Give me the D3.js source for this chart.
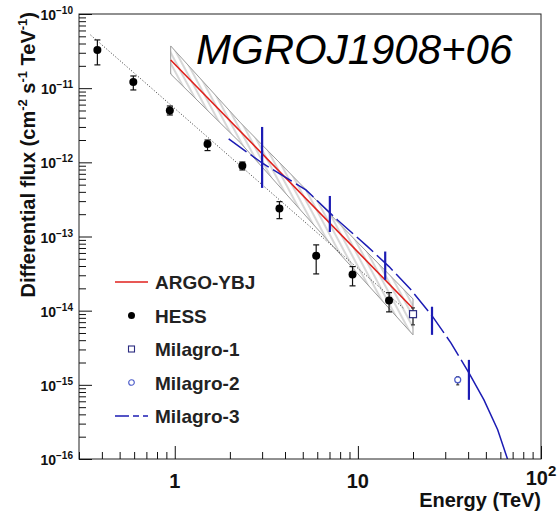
<!DOCTYPE html>
<html>
<head>
<meta charset="utf-8">
<script src="https://cdn.jsdelivr.net/npm/d3@7"></script>
<style>
  body { margin: 0; background: #fff; }
  svg { font-family: "Liberation Sans", Arial, sans-serif; }
</style>
</head>
<body>
<svg id="chart" width="557" height="511"></svg>
<script>
// HESS points (TeV, cm^-2 s^-1 TeV^-1)
const hessE = [0.378, 0.594, 0.94, 1.51, 2.34, 3.73, 5.92, 9.35, 14.8];
const hessFlux = [3.27e-11, 1.21e-11, 4.98e-12, 1.77e-12, 9.0e-13, 2.38e-13, 5.48e-14, 3.07e-14, 1.37e-14];
const hessHi = [4.47e-11, 1.46e-11, 5.75e-12, 2.0e-12, 1.01e-12, 2.95e-13, 7.71e-14, 3.93e-14, 1.75e-14];
const hessLo = [2.06e-11, 9.46e-12, 4.35e-12, 1.44e-12, 7.89e-13, 1.74e-13, 3.13e-14, 2.16e-14, 9.63e-15];

// HESS power-law fit, end points
const hessFitE = [0.347, 18];
const hessFitFlux = [5.21e-11, 1.05e-14];

// ARGO-YBJ fit and its error band
const argoE = [0.95, 20];
const argoFlux = [2.4e-11, 1.07e-14];
const bandE = [0.95, 2.29, 6.28, 20];
const bandUpper = [3.71e-11, 3.40e-12, 2.67e-13, 1.44e-14];
const bandLower = [1.55e-11, 1.82e-12, 1.12e-13, 4.72e-15];

// Milagro-1 / Milagro-2 points
const m1E = [20], m1Flux = [8.97e-15], m1Hi = [1.09e-14], m1Lo = [6.44e-15];
const m2E = [35.1], m2Flux = [1.17e-15], m2Hi = [1.29e-15], m2Lo = [1.0e-15];

// Milagro-3 cutoff spectrum and its error bars
const m3E = [1.97, 3.01, 5.2, 7.74, 11.3, 14.8, 19.5, 25.6, 32.2, 40.4, 48.8, 58.0, 65.8];
const m3Flux = [2.07e-12, 9.72e-13, 4.25e-13, 1.67e-13, 7.31e-14, 3.93e-14, 1.91e-14, 8.3e-15, 3.68e-15, 1.45e-15, 6.28e-16, 2.48e-16, 9.8e-17];
const m3BarE = [3.0, 7.03, 14.1, 25.4, 40.4];
const m3BarHi = [3.0e-12, 3.52e-13, 6.27e-14, 1.13e-14, 2.17e-15];
const m3BarLo = [4.52e-13, 1.15e-13, 2.6e-14, 4.72e-15, 6.28e-16];

const legendLabels = ["ARGO-YBJ", "HESS", "Milagro-1", "Milagro-2", "Milagro-3"];
const xTickLabels = [[1, "1", null], [10, "10", null], [100, "10", "2"]];
const yTickExps = [-16, -15, -14, -13, -12, -11, -10];

const red = "#e0201c", blue = "#1c1cb4", navy = "#2b2b80";

const svg = d3.select("#chart");
const x = d3.scaleLog().domain([0.3, 100]).range([79, 541]);
const y = d3.scaleLog().domain([1e-16, 1e-10]).range([459, 14]);
const zip = (a, b) => a.map((v, i) => [v, b[i]]);

// hatch pattern for the ARGO band
const defs = svg.append("defs");
defs.append("pattern")
  .attr("id", "hatch")
  .attr("patternUnits", "userSpaceOnUse")
  .attr("width", 5).attr("height", 5)
  .attr("patternTransform", "rotate(-28)")
  .append("line")
  .attr("x1", 1).attr("y1", 0).attr("x2", 1).attr("y2", 5)
  .attr("stroke", "#a6a6a6").attr("stroke-width", 0.9);
defs.append("clipPath").attr("id", "clip")
  .append("rect")
  .attr("x", x.range()[0]).attr("y", y.range()[1])
  .attr("width", x.range()[1] - x.range()[0])
  .attr("height", y.range()[0] - y.range()[1]);

const plot = svg.append("g").attr("clip-path", "url(#clip)");

// band
const bandPts = zip(bandE, bandUpper).concat(zip(bandE, bandLower).reverse());
plot.append("path")
  .attr("d", d3.line().x(d => x(d[0])).y(d => y(d[1]))(bandPts) + "Z")
  .attr("fill", "url(#hatch)")
  .attr("stroke", "#999").attr("stroke-width", 1);

const line = d3.line().x(d => x(d[0])).y(d => y(d[1]));

// HESS fit dotted
plot.append("path")
  .attr("d", line(zip(hessFitE, hessFitFlux)))
  .attr("fill", "none").attr("stroke", "#333").attr("stroke-width", 1)
  .attr("stroke-dasharray", "1,2");

// ARGO line
plot.append("path")
  .attr("d", line(zip(argoE, argoFlux)))
  .attr("fill", "none").attr("stroke", red).attr("stroke-width", 1.6);

// Milagro-3 curve: dashed, then solid at the high end
const m3 = zip(m3E, m3Flux);
plot.append("path")
  .attr("d", line(m3.filter(d => d[0] <= 40.5)))
  .attr("fill", "none").attr("stroke", blue).attr("stroke-width", 1.5)
  .attr("stroke-dasharray", "22,5");
plot.append("path")
  .attr("d", line(m3.filter(d => d[0] >= 40)))
  .attr("fill", "none").attr("stroke", blue).attr("stroke-width", 1.5);

// Milagro-3 bars
plot.selectAll("line.m3bar")
  .data(m3BarE.map((e, i) => ({ e, hi: m3BarHi[i], lo: m3BarLo[i] })))
  .join("line")
  .attr("class", "m3bar")
  .attr("x1", d => x(d.e)).attr("x2", d => x(d.e))
  .attr("y1", d => y(d.hi)).attr("y2", d => y(d.lo))
  .attr("stroke", blue).attr("stroke-width", 2.2);

// error bars helper
function errBars(E, hi, lo, color, cap) {
  const g = plot.append("g").attr("stroke", color).attr("stroke-width", 1.2);
  E.forEach((e, i) => {
    g.append("line").attr("x1", x(e)).attr("x2", x(e)).attr("y1", y(hi[i])).attr("y2", y(lo[i]));
    g.append("line").attr("x1", x(e) - cap).attr("x2", x(e) + cap).attr("y1", y(hi[i])).attr("y2", y(hi[i]));
    g.append("line").attr("x1", x(e) - cap).attr("x2", x(e) + cap).attr("y1", y(lo[i])).attr("y2", y(lo[i]));
  });
}

errBars(hessE, hessHi, hessLo, "#111", 3);
plot.selectAll("circle.hess")
  .data(zip(hessE, hessFlux))
  .join("circle")
  .attr("class", "hess")
  .attr("cx", d => x(d[0])).attr("cy", d => y(d[1])).attr("r", 4)
  .attr("fill", "#000");

errBars(m1E, m1Hi, m1Lo, "#333", 2);
plot.selectAll("rect.m1")
  .data(zip(m1E, m1Flux))
  .join("rect")
  .attr("class", "m1")
  .attr("x", d => x(d[0]) - 3.5).attr("y", d => y(d[1]) - 3.5)
  .attr("width", 7).attr("height", 7)
  .attr("fill", "#fff").attr("stroke", navy).attr("stroke-width", 1.2);

errBars(m2E, m2Hi, m2Lo, "#333", 1.5);
plot.selectAll("circle.m2")
  .data(zip(m2E, m2Flux))
  .join("circle")
  .attr("class", "m2")
  .attr("cx", d => x(d[0])).attr("cy", d => y(d[1])).attr("r", 3)
  .attr("fill", "#fff").attr("stroke", "#4a5ac8").attr("stroke-width", 1.2);

// frame
svg.append("rect")
  .attr("x", x.range()[0]).attr("y", y.range()[1])
  .attr("width", x.range()[1] - x.range()[0])
  .attr("height", y.range()[0] - y.range()[1])
  .attr("fill", "none").attr("stroke", "#222").attr("stroke-width", 1);

// axes: major + minor ticks pointing inward
const xMajor = [1, 10, 100];
const xMinor = x.ticks().filter(v => !xMajor.includes(v));
const yMajor = yTickExps.map(e => Math.pow(10, e));
const yMinor = y.ticks().filter(v => !yMajor.some(m => Math.abs(m - v) / v < 1e-6));

function styleAxis(g) {
  g.select(".domain").remove();
  g.selectAll("text").remove();
  g.selectAll("line").attr("stroke", "#111");
}
const xAxisG = svg.append("g").attr("transform", `translate(0,${y.range()[0]})`);
xAxisG.append("g").call(d3.axisBottom(x).tickValues(xMajor).tickSize(-13)).call(styleAxis);
xAxisG.append("g").call(d3.axisBottom(x).tickValues(xMinor).tickSize(-7)).call(styleAxis);
const yAxisG = svg.append("g").attr("transform", `translate(${x.range()[0]},0)`);
yAxisG.append("g").call(d3.axisLeft(y).tickValues(yMajor).tickSize(-13)).call(styleAxis);
yAxisG.append("g").call(d3.axisLeft(y).tickValues(yMinor).tickSize(-7)).call(styleAxis);

// x tick labels
const xl = svg.append("g").attr("font-weight", "bold").attr("font-size", 20).attr("fill", "#111");
xTickLabels.forEach(([v, base, sup]) => {
  const t = xl.append("text").attr("x", x(v)).attr("y", sup ? 485 : 488).attr("text-anchor", "middle");
  t.append("tspan").text(base);
  if (sup) t.append("tspan").attr("dy", -9).attr("font-size", 15).text(sup);
});

// y tick labels
const yl = svg.append("g").attr("font-weight", "bold").attr("fill", "#111");
yTickExps.forEach(e => {
  const t = yl.append("text").attr("x", 73).attr("y", y(Math.pow(10, e)) + 6).attr("text-anchor", "end");
  t.append("tspan").attr("font-size", 14).text("10");
  t.append("tspan").attr("font-size", 10).attr("dy", -6).text(String(e).replace("-", "\u2212"));
});

// axis titles
svg.append("text")
  .attr("x", 541).attr("y", 507).attr("text-anchor", "end")
  .attr("font-weight", "bold").attr("font-size", 20).attr("fill", "#111")
  .text("Energy (TeV)");

const yt = svg.append("text")
  .attr("transform", "translate(35,12) rotate(-90)")
  .attr("text-anchor", "end")
  .attr("font-weight", "bold").attr("font-size", 20).attr("fill", "#111");
yt.append("tspan").text("Differential flux (cm");
yt.append("tspan").attr("font-size", 13).attr("dy", -8).text("-2");
yt.append("tspan").attr("dy", 8).text(" s");
yt.append("tspan").attr("font-size", 13).attr("dy", -8).text("-1");
yt.append("tspan").attr("dy", 8).text(" TeV");
yt.append("tspan").attr("font-size", 13).attr("dy", -8).text("-1");
yt.append("tspan").attr("dy", 8).text(")");

// title
svg.append("text")
  .attr("x", 196).attr("y", 64)
  .attr("font-style", "italic").attr("font-size", 42).attr("fill", "#000")
  .text("MGROJ1908+06");

// legend
const leg = svg.append("g").attr("font-weight", "bold").attr("font-size", 19).attr("fill", "#222");
legendLabels.forEach((lab, i) => {
  const cy = 282 + i * 33.5;
  const row = leg.append("g").attr("transform", `translate(0,${cy})`);
  if (i === 0) {
    row.append("line").attr("x1", 115).attr("x2", 148).attr("stroke", red).attr("stroke-width", 1.6);
  } else if (i === 1) {
    row.append("circle").attr("cx", 131.5).attr("r", 3.5).attr("fill", "#000");
  } else if (i === 2) {
    row.append("rect").attr("x", 128.5).attr("y", -3).attr("width", 6).attr("height", 6)
      .attr("fill", "#fff").attr("stroke", navy).attr("stroke-width", 1.1);
  } else if (i === 3) {
    row.append("circle").attr("cx", 131.5).attr("r", 2.8)
      .attr("fill", "#fff").attr("stroke", "#4a5ac8").attr("stroke-width", 1.1);
  } else {
    row.append("line").attr("x1", 115).attr("x2", 148).attr("stroke", blue).attr("stroke-width", 1.6)
      .attr("stroke-dasharray", "14,4,6,4");
  }
  row.append("text").attr("x", 155).attr("y", 7).text(lab);
});
</script>
</body>
</html>
